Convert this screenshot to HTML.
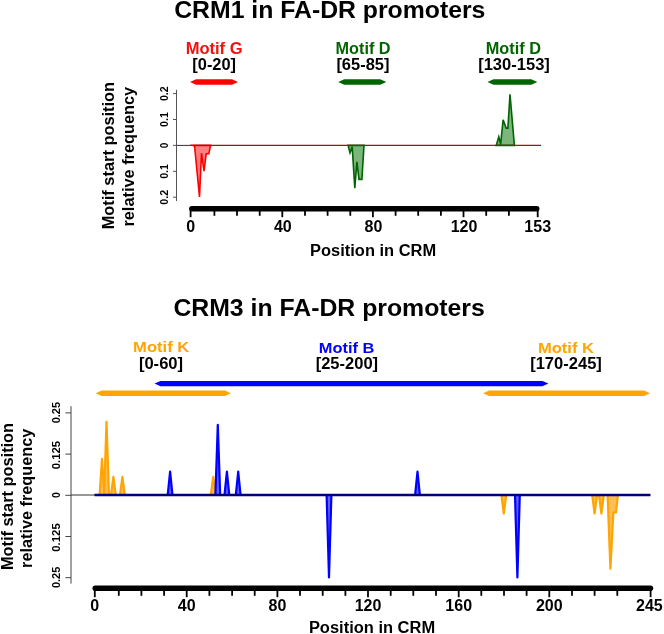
<!DOCTYPE html>
<html><head><meta charset="utf-8"><title>CRM motif positions</title>
<style>
html,body{margin:0;padding:0;background:#fff;}
svg{display:block;font-family:"Liberation Sans",sans-serif;font-weight:bold;}
</style></head><body>
<svg width="664" height="634" viewBox="0 0 664 634">
<rect width="664" height="634" fill="#fff"/>
<g opacity="0.999">

<text x="329.8" y="18.4" font-size="24.6" fill="#000" text-anchor="middle" textLength="311.2" lengthAdjust="spacingAndGlyphs">CRM1 in FA-DR promoters</text>
<text x="214.1" y="53.7" font-size="16" fill="#f41010" text-anchor="middle" textLength="56.9" lengthAdjust="spacingAndGlyphs">Motif G</text>
<text x="214.2" y="70" font-size="16" fill="#000" text-anchor="middle" textLength="43.7" lengthAdjust="spacingAndGlyphs">[0-20]</text>
<text x="363.1" y="53.7" font-size="16" fill="#006400" text-anchor="middle" textLength="55.0" lengthAdjust="spacingAndGlyphs">Motif D</text>
<text x="362.9" y="70" font-size="16" fill="#000" text-anchor="middle" textLength="53.0" lengthAdjust="spacingAndGlyphs">[65-85]</text>
<text x="513.4" y="53.7" font-size="16" fill="#006400" text-anchor="middle" textLength="55.2" lengthAdjust="spacingAndGlyphs">Motif D</text>
<text x="514" y="70" font-size="16" fill="#000" text-anchor="middle" textLength="71.7" lengthAdjust="spacingAndGlyphs">[130-153]</text>
<path d="M190.0,82 L196.0,79.3 L232.0,79.3 L238.0,82 L232.0,84.7 L196.0,84.7 Z" fill="#ff0000"/>
<path d="M338.2,82 L344.2,79.3 L380.3,79.3 L386.3,82 L380.3,84.7 L344.2,84.7 Z" fill="#006400"/>
<path d="M487.5,82 L493.5,79.3 L531.3,79.3 L537.3,82 L531.3,84.7 L493.5,84.7 Z" fill="#006400"/>
<path d="M176.5,89.8 V201" stroke="#555" stroke-width="1" fill="none"/>
<path d="M173,93.6 H176.5" stroke="#555" stroke-width="1" fill="none"/>
<text x="168.4" y="93.7" font-size="10" fill="#000" text-anchor="middle" textLength="14.8" lengthAdjust="spacingAndGlyphs" transform="rotate(-90 168.4 93.7)">0.2</text>
<path d="M173,119.5 H176.5" stroke="#555" stroke-width="1" fill="none"/>
<text x="168.4" y="119.6" font-size="10" fill="#000" text-anchor="middle" textLength="14.8" lengthAdjust="spacingAndGlyphs" transform="rotate(-90 168.4 119.6)">0.1</text>
<path d="M173,145.4 H176.5" stroke="#555" stroke-width="1" fill="none"/>
<text x="168.4" y="145.5" font-size="10" fill="#000" text-anchor="middle" transform="rotate(-90 168.4 145.5)">0</text>
<path d="M173,171.3 H176.5" stroke="#555" stroke-width="1" fill="none"/>
<text x="168.4" y="171.4" font-size="10" fill="#000" text-anchor="middle" textLength="14.8" lengthAdjust="spacingAndGlyphs" transform="rotate(-90 168.4 171.4)">0.1</text>
<path d="M173,197.2 H176.5" stroke="#555" stroke-width="1" fill="none"/>
<text x="168.4" y="197.3" font-size="10" fill="#000" text-anchor="middle" textLength="14.8" lengthAdjust="spacingAndGlyphs" transform="rotate(-90 168.4 197.3)">0.2</text>
<path d="M176.6,145.4 H193" stroke="#333" stroke-width="1" fill="none"/>
<path d="M348.1,145.4 L350.0,152.8 L352.2,146.9 L354.8,188.1 L356.9,161.9 L359.0,179.4 L361.9,179.4 L364.0,145.4 Z" fill="#7cb67c" stroke="#006400" stroke-width="1.6" stroke-linejoin="miter"/>
<path d="M496.2,145.4 L498.8,136.9 L500.6,144.4 L503.1,119.8 L506.2,128.1 L507.9,128.1 L510.0,94.4 L514.4,145.4 Z" fill="#7cb67c" stroke="#006400" stroke-width="1.6" stroke-linejoin="miter"/>
<path d="M192.8,145.4 L194.6,146.4 L199.5,196.9 L201.5,153.1 L204.0,171.2 L206.2,153.8 L208.8,153.8 L210.6,145.4 Z" fill="#ff8080" stroke="#ff0000" stroke-width="1.6" stroke-linejoin="miter"/>
<path d="M193,145.4 H541" stroke="#9a1418" stroke-width="1.2" fill="none"/>
<path d="M191.8,208.7 H536.8" stroke="#000" stroke-width="5.4" stroke-linecap="round" fill="none"/>
<path d="M190.6,208 V217.2" stroke="#000" stroke-width="1.8" fill="none"/>
<path d="M214.4,208 V215.8" stroke="#000" stroke-width="1.8" fill="none"/>
<path d="M237.0,208 V215.8" stroke="#000" stroke-width="1.8" fill="none"/>
<path d="M259.7,208 V215.8" stroke="#000" stroke-width="1.8" fill="none"/>
<path d="M282.3,208 V217.2" stroke="#000" stroke-width="1.8" fill="none"/>
<path d="M305.0,208 V215.8" stroke="#000" stroke-width="1.8" fill="none"/>
<path d="M327.6,208 V215.8" stroke="#000" stroke-width="1.8" fill="none"/>
<path d="M350.3,208 V215.8" stroke="#000" stroke-width="1.8" fill="none"/>
<path d="M372.9,208 V217.2" stroke="#000" stroke-width="1.8" fill="none"/>
<path d="M395.6,208 V215.8" stroke="#000" stroke-width="1.8" fill="none"/>
<path d="M418.2,208 V215.8" stroke="#000" stroke-width="1.8" fill="none"/>
<path d="M440.9,208 V215.8" stroke="#000" stroke-width="1.8" fill="none"/>
<path d="M463.5,208 V217.2" stroke="#000" stroke-width="1.8" fill="none"/>
<path d="M486.2,208 V215.8" stroke="#000" stroke-width="1.8" fill="none"/>
<path d="M508.9,208 V215.8" stroke="#000" stroke-width="1.8" fill="none"/>
<path d="M537.7,208 V217.2" stroke="#000" stroke-width="1.8" fill="none"/>
<text x="190.6" y="231.5" font-size="16.0" fill="#000" text-anchor="middle">0</text>
<text x="282.8" y="231.5" font-size="16.0" fill="#000" text-anchor="middle">40</text>
<text x="373.4" y="231.5" font-size="16.0" fill="#000" text-anchor="middle">80</text>
<text x="464.0" y="231.5" font-size="16.0" fill="#000" text-anchor="middle">120</text>
<text x="537.7" y="231.5" font-size="16.0" fill="#000" text-anchor="middle">153</text>
<text x="373.1" y="255.6" font-size="16" fill="#000" text-anchor="middle" textLength="126.0" lengthAdjust="spacingAndGlyphs">Position in CRM</text>
<text x="114.5" y="155.6" font-size="16" fill="#000" text-anchor="middle" textLength="147.4" lengthAdjust="spacingAndGlyphs" transform="rotate(-90 114.5 155.6)">Motif start position</text>
<text x="133.7" y="156.7" font-size="16" fill="#000" text-anchor="middle" textLength="139.7" lengthAdjust="spacingAndGlyphs" transform="rotate(-90 133.7 156.7)">relative frequency</text>
<text x="329.1" y="316.2" font-size="24.6" fill="#000" text-anchor="middle" textLength="311.4" lengthAdjust="spacingAndGlyphs">CRM3 in FA-DR promoters</text>
<text x="161.2" y="352" font-size="15" fill="#ffa500" text-anchor="middle" textLength="56.2" lengthAdjust="spacingAndGlyphs">Motif K</text>
<text x="161" y="368.5" font-size="16" fill="#000" text-anchor="middle" textLength="44.2" lengthAdjust="spacingAndGlyphs">[0-60]</text>
<text x="346.6" y="353" font-size="15" fill="#0000ff" text-anchor="middle" textLength="55.6" lengthAdjust="spacingAndGlyphs">Motif B</text>
<text x="346.9" y="368.9" font-size="16" fill="#000" text-anchor="middle" textLength="62.4" lengthAdjust="spacingAndGlyphs">[25-200]</text>
<text x="566" y="353" font-size="15" fill="#ffa500" text-anchor="middle" textLength="56.2" lengthAdjust="spacingAndGlyphs">Motif K</text>
<text x="566" y="368.5" font-size="16" fill="#000" text-anchor="middle" textLength="71.7" lengthAdjust="spacingAndGlyphs">[170-245]</text>
<path d="M154.5,383.6 L160.5,380.90000000000003 L542.4,380.90000000000003 L548.4,383.6 L542.4,386.3 L160.5,386.3 Z" fill="#0000ff"/>
<path d="M95.7,393.2 L101.7,390.5 L225.0,390.5 L231.0,393.2 L225.0,395.9 L101.7,395.9 Z" fill="#ffa500"/>
<path d="M483.1,393.2 L489.1,390.5 L644.1,390.5 L650.1,393.2 L644.1,395.9 L489.1,395.9 Z" fill="#ffa500"/>
<path d="M71,406.2 V583.6" stroke="#444" stroke-width="1" fill="none"/>
<path d="M65.4,412.9 H71" stroke="#444" stroke-width="1" fill="none"/>
<text x="60.2" y="412.6" font-size="10.5" fill="#000" text-anchor="middle" textLength="21.3" lengthAdjust="spacingAndGlyphs" transform="rotate(-90 60.2 412.6)">0.25</text>
<path d="M65.4,454.1 H71" stroke="#444" stroke-width="1" fill="none"/>
<text x="60.2" y="455.1" font-size="10.5" fill="#000" text-anchor="middle" textLength="28.4" lengthAdjust="spacingAndGlyphs" transform="rotate(-90 60.2 455.1)">0.125</text>
<path d="M65.4,495.3 H71" stroke="#444" stroke-width="1" fill="none"/>
<text x="60.2" y="495.0" font-size="10.5" fill="#000" text-anchor="middle" transform="rotate(-90 60.2 495.0)">0</text>
<path d="M65.4,536.5 H71" stroke="#444" stroke-width="1" fill="none"/>
<text x="60.2" y="537.5" font-size="10.5" fill="#000" text-anchor="middle" textLength="28.4" lengthAdjust="spacingAndGlyphs" transform="rotate(-90 60.2 537.5)">0.125</text>
<path d="M65.4,577.7 H71" stroke="#444" stroke-width="1" fill="none"/>
<text x="60.2" y="577.4" font-size="10.5" fill="#000" text-anchor="middle" textLength="21.3" lengthAdjust="spacingAndGlyphs" transform="rotate(-90 60.2 577.4)">0.25</text>
<path d="M71,495.0 H95" stroke="#333" stroke-width="1" fill="none"/>
<path d="M99.6,495.0 L102.0,458.8 L104.4,495.0 Z" fill="#ffbe55" stroke="#ffa500" stroke-width="2.2" stroke-linejoin="round"/>
<path d="M104.1,495.0 L106.5,421.9 L109.0,495.0 Z" fill="#ffbe55" stroke="#ffa500" stroke-width="2.2" stroke-linejoin="round"/>
<path d="M111.0,495.0 L113.4,476.9 L115.8,495.0 Z" fill="#ffbe55" stroke="#ffa500" stroke-width="2.2" stroke-linejoin="round"/>
<path d="M120.0,495.0 L122.4,476.9 L124.8,495.0 Z" fill="#ffbe55" stroke="#ffa500" stroke-width="2.2" stroke-linejoin="round"/>
<path d="M210.8,495.0 L213.2,476.9 L215.6,495.0 Z" fill="#ffbe55" stroke="#ffa500" stroke-width="2.2" stroke-linejoin="round"/>
<path d="M167.7,495.0 L170.1,471.6 L172.5,495.0 Z" fill="#6464ff" stroke="#0000ff" stroke-width="2.2" stroke-linejoin="round"/>
<path d="M215.4,495.0 L217.8,424.8 L220.2,495.0 Z" fill="#6464ff" stroke="#0000ff" stroke-width="2.2" stroke-linejoin="round"/>
<path d="M224.5,495.0 L226.9,471.6 L229.3,495.0 Z" fill="#6464ff" stroke="#0000ff" stroke-width="2.2" stroke-linejoin="round"/>
<path d="M235.8,495.0 L238.2,471.6 L240.6,495.0 Z" fill="#6464ff" stroke="#0000ff" stroke-width="2.2" stroke-linejoin="round"/>
<path d="M415.1,495.0 L417.5,471.6 L419.9,495.0 Z" fill="#6464ff" stroke="#0000ff" stroke-width="2.2" stroke-linejoin="round"/>
<path d="M326.6,495.0 L329.0,577.4 L331.4,495.0 Z" fill="#6464ff" stroke="#0000ff" stroke-width="2.2" stroke-linejoin="round"/>
<path d="M515.0,495.0 L517.4,577.4 L519.8,495.0 Z" fill="#6464ff" stroke="#0000ff" stroke-width="2.2" stroke-linejoin="round"/>
<path d="M501.4,495.0 L503.8,513.5 L506.2,495.0 Z" fill="#ffbe55" stroke="#ffa500" stroke-width="2.2" stroke-linejoin="round"/>
<path d="M592.2,495.0 L594.6,513.5 L597.0,495.0 Z" fill="#ffbe55" stroke="#ffa500" stroke-width="2.2" stroke-linejoin="round"/>
<path d="M599.0,495.0 L601.4,513.5 L603.8,495.0 Z" fill="#ffbe55" stroke="#ffa500" stroke-width="2.2" stroke-linejoin="round"/>
<path d="M607.6,495.0 L610.4,568.6 L613.4,512.3 L616,512.3 L617.9,495.0 Z" fill="#ffbe55" stroke="#ffa500" stroke-width="2.2" stroke-linejoin="round"/>
<path d="M94.5,495.0 H650.5" stroke="#00007c" stroke-width="2.3" fill="none"/>
<path d="M95.3,588.2 H650.4" stroke="#000" stroke-width="5.6" stroke-linecap="round" fill="none"/>
<path d="M94.8,588 V597.2" stroke="#000" stroke-width="1.8" fill="none"/>
<path d="M118.8,588 V595.8" stroke="#000" stroke-width="1.8" fill="none"/>
<path d="M141.4,588 V595.8" stroke="#000" stroke-width="1.8" fill="none"/>
<path d="M164.1,588 V595.8" stroke="#000" stroke-width="1.8" fill="none"/>
<path d="M186.7,588 V597.2" stroke="#000" stroke-width="1.8" fill="none"/>
<path d="M209.4,588 V595.8" stroke="#000" stroke-width="1.8" fill="none"/>
<path d="M232.1,588 V595.8" stroke="#000" stroke-width="1.8" fill="none"/>
<path d="M254.7,588 V595.8" stroke="#000" stroke-width="1.8" fill="none"/>
<path d="M277.4,588 V597.2" stroke="#000" stroke-width="1.8" fill="none"/>
<path d="M300.0,588 V595.8" stroke="#000" stroke-width="1.8" fill="none"/>
<path d="M322.7,588 V595.8" stroke="#000" stroke-width="1.8" fill="none"/>
<path d="M345.4,588 V595.8" stroke="#000" stroke-width="1.8" fill="none"/>
<path d="M368.0,588 V597.2" stroke="#000" stroke-width="1.8" fill="none"/>
<path d="M390.7,588 V595.8" stroke="#000" stroke-width="1.8" fill="none"/>
<path d="M413.3,588 V595.8" stroke="#000" stroke-width="1.8" fill="none"/>
<path d="M436.0,588 V595.8" stroke="#000" stroke-width="1.8" fill="none"/>
<path d="M458.7,588 V597.2" stroke="#000" stroke-width="1.8" fill="none"/>
<path d="M481.3,588 V595.8" stroke="#000" stroke-width="1.8" fill="none"/>
<path d="M504.0,588 V595.8" stroke="#000" stroke-width="1.8" fill="none"/>
<path d="M526.6,588 V595.8" stroke="#000" stroke-width="1.8" fill="none"/>
<path d="M549.3,588 V597.2" stroke="#000" stroke-width="1.8" fill="none"/>
<path d="M572.0,588 V595.8" stroke="#000" stroke-width="1.8" fill="none"/>
<path d="M594.6,588 V595.8" stroke="#000" stroke-width="1.8" fill="none"/>
<path d="M617.3,588 V595.8" stroke="#000" stroke-width="1.8" fill="none"/>
<path d="M650.6,588 V597.2" stroke="#000" stroke-width="1.8" fill="none"/>
<text x="94.8" y="611.2" font-size="16.0" fill="#000" text-anchor="middle">0</text>
<text x="186.7" y="611.2" font-size="16.0" fill="#000" text-anchor="middle">40</text>
<text x="277.4" y="611.2" font-size="16.0" fill="#000" text-anchor="middle">80</text>
<text x="368.0" y="611.2" font-size="16.0" fill="#000" text-anchor="middle">120</text>
<text x="458.7" y="611.2" font-size="16.0" fill="#000" text-anchor="middle">160</text>
<text x="549.3" y="611.2" font-size="16.0" fill="#000" text-anchor="middle">200</text>
<text x="649.4" y="611.2" font-size="16.0" fill="#000" text-anchor="middle">245</text>
<text x="372" y="633.4" font-size="16" fill="#000" text-anchor="middle" textLength="126.2" lengthAdjust="spacingAndGlyphs">Position in CRM</text>
<text x="13" y="496.5" font-size="16" fill="#000" text-anchor="middle" textLength="147.2" lengthAdjust="spacingAndGlyphs" transform="rotate(-90 13 496.5)">Motif start position</text>
<text x="32" y="498.3" font-size="16" fill="#000" text-anchor="middle" textLength="139.2" lengthAdjust="spacingAndGlyphs" transform="rotate(-90 32 498.3)">relative frequency</text>
</g></svg></body></html>
